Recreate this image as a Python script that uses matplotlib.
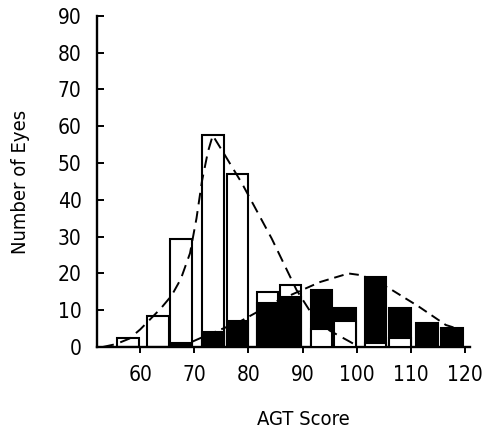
import matplotlib
matplotlib.use("Agg")
import matplotlib.pyplot as plt

# bin centres (AGT score) and counts
bin_centres = [57.7, 63.3, 67.5, 73.5, 78.0, 83.5, 87.8, 93.5, 97.8, 103.5, 108.0, 113.0, 117.7]
open_counts = [2.5, 8.5, 29.5, 57.5, 47, 15, 17, 5, 7, 1, 2.5, 0, 0]
solid_counts = [0, 0, 1, 4, 7, 12, 13.5, 15.5, 10.5, 19, 10.5, 6.5, 5.3]

# dashed fitted curves
open_curve_x = [53, 55.5, 58, 60, 61.8, 63.8, 65.8, 67.5, 69.2, 70.4, 71.4, 72.5, 73.4, 75.3, 78.8, 84.3, 88.9, 91.5, 95, 98.7, 100.5]
open_curve_y = [0, 0.8, 2.3, 4.8, 7.5, 10.5, 14.0, 18.5, 25.5, 35, 45, 53, 57.5, 53, 44.5, 29.5, 15.5, 9.5, 4.5, 1.5, 0]
solid_curve_x = [67, 69.2, 72, 78.5, 85.3, 93.3, 98.5, 101, 106, 111.5, 116.5, 118]
solid_curve_y = [0, 1.2, 3, 7, 12.5, 17.7, 20, 19.5, 16, 11, 6, 5.3]

x_ticks = [60, 70, 80, 90, 100, 110, 120]
y_ticks = [0, 10, 20, 30, 40, 50, 60, 70, 80, 90]

plt.rcParams['font.family'] = ['DejaVu Sans']
plt.rcParams['font.stretch'] = 'condensed'

fig = plt.figure(figsize=(4.84, 4.29), dpi=100)
ax = fig.add_axes([0.2004, 0.191, 0.771, 0.772])

bar_w = 4.0
for x, o, s in zip(bin_centres, open_counts, solid_counts):
    # taller bar behind, shorter one in front
    oz, sz = (2, 3) if o >= s else (3, 2)
    if o > 0:
        ax.bar(x, o, width=bar_w, facecolor='white', edgecolor='black', linewidth=1.5, zorder=oz)
    if s > 0:
        ax.bar(x, s, width=bar_w, facecolor='black', edgecolor='black', linewidth=1.5, zorder=sz)

ax.plot(open_curve_x, open_curve_y, color='black', lw=1.4, dashes=(6, 3.5), zorder=5)
ax.plot(solid_curve_x, solid_curve_y, color='black', lw=1.4, dashes=(5, 3), zorder=5)

ax.set_xlim(52, 121)
ax.set_ylim(0, 90)
ax.set_xticks(x_ticks)
ax.set_yticks(y_ticks)

for side in ['top', 'right']:
    ax.spines[side].set_visible(False)
for side in ['left', 'bottom']:
    ax.spines[side].set_linewidth(1.7)

ax.tick_params(axis='y', direction='in', length=5, width=1.4, labelsize=15, pad=11)
ax.tick_params(axis='x', direction='out', length=4, width=1.4, labelsize=15, pad=9)

ax.set_xlabel('AGT Score', fontsize=14.5)
ax.set_ylabel('Number of Eyes', fontsize=14.5)
ax.xaxis.set_label_coords(0.552, -0.19)
ax.yaxis.set_label_coords(-0.18, 0.5)

fig.savefig('out.png', dpi=100)
